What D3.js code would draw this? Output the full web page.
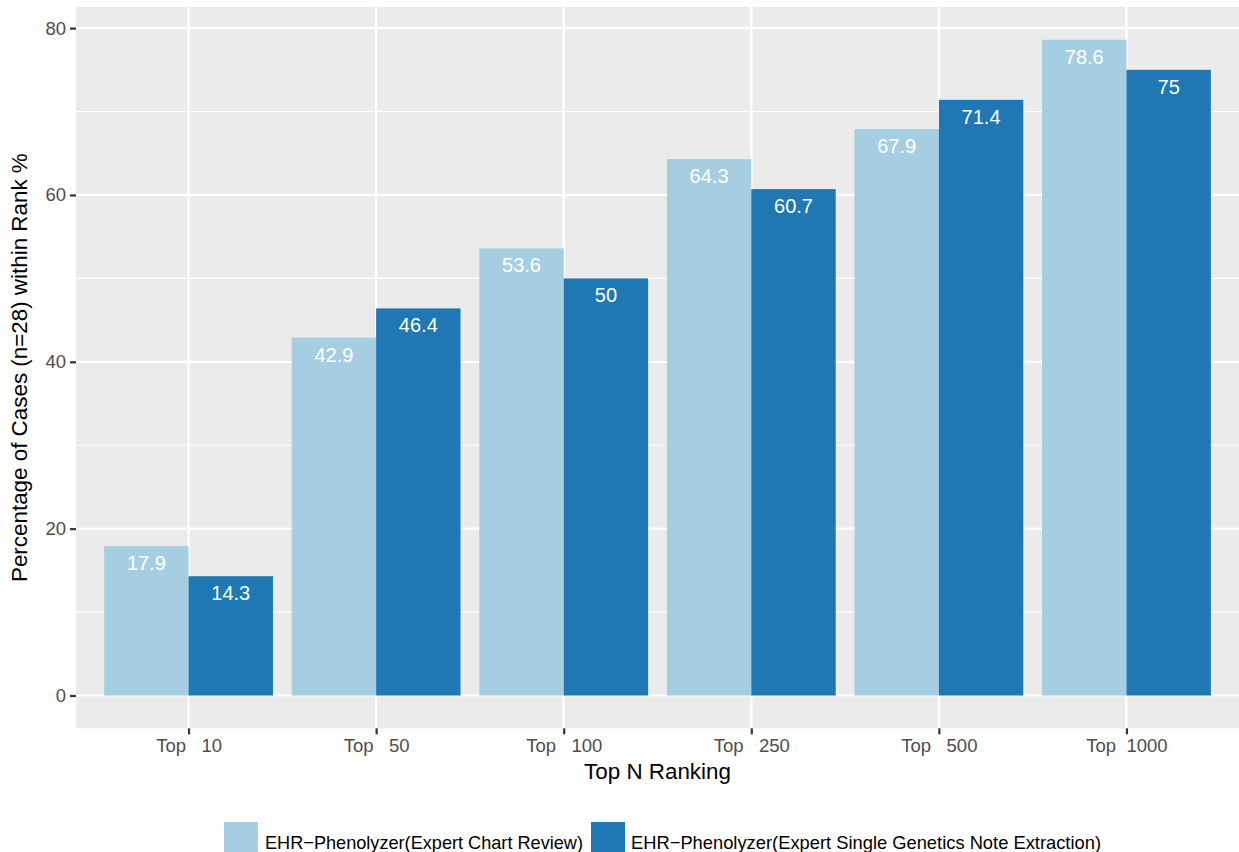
<!DOCTYPE html>
<html>
<head>
<meta charset="utf-8">
<script src="https://cdn.jsdelivr.net/npm/d3@7"></script>
<style>
  html, body { margin: 0; padding: 0; background: #ffffff; }
  svg { display: block; font-family: "Liberation Sans", Arial, Helvetica, sans-serif; }
  text { white-space: pre; }
</style>
</head>
<body>
<svg id="chart" width="1239" height="852"></svg>
<script>
// Rank cut-offs on the x axis
const categories = ["10", "50", "100", "250", "500", "1000"];
const tickLabels = ["Top   10", "Top   50", "Top   100", "Top   250", "Top   500", "Top  1000"];

// Percentage of the 28 cases ranked within each cut-off
const seriesNames = [
  "EHR\u2212Phenolyzer(Expert Chart Review)",
  "EHR\u2212Phenolyzer(Expert Single Genetics Note Extraction)"
];
const chartReview = [17.9, 42.9, 53.6, 64.3, 67.9, 78.6];
const singleNote  = [14.3, 46.4, 50, 60.7, 71.4, 75];

const yTicks = [0, 20, 40, 60, 80];
const yMinor = [10, 30, 50, 70];

const colors = ["#a6cee3", "#1f78b4"];

const svg = d3.select("#chart");

// Plot panel
const panel = { left: 76, right: 1239, top: 7, bottom: 728.3 };

const x = d3.scalePoint()
  .domain(categories)
  .range([panel.left, panel.right])
  .padding(0.6);
const step = x.step();
const groupWidth = step * 0.9;

const xInner = d3.scaleBand()
  .domain(d3.range(seriesNames.length))
  .range([-groupWidth / 2, groupWidth / 2])
  .padding(0);

const yMax = d3.max(chartReview.concat(singleNote));
const pad = yMax * 0.05;
const y = d3.scaleLinear()
  .domain([-pad, yMax + pad])
  .range([panel.bottom, panel.top]);

// Panel background
svg.append("rect")
  .attr("x", panel.left)
  .attr("y", panel.top)
  .attr("width", panel.right - panel.left)
  .attr("height", panel.bottom - panel.top)
  .attr("fill", "#ebebeb");

const grid = svg.append("g");
grid.selectAll("line.minor")
  .data(yMinor)
  .join("line")
  .attr("class", "minor")
  .attr("x1", panel.left).attr("x2", panel.right)
  .attr("y1", d => y(d)).attr("y2", d => y(d))
  .attr("stroke", "#ffffff").attr("stroke-width", 1.1);
grid.selectAll("line.major")
  .data(yTicks)
  .join("line")
  .attr("class", "major")
  .attr("x1", panel.left).attr("x2", panel.right)
  .attr("y1", d => y(d)).attr("y2", d => y(d))
  .attr("stroke", "#ffffff").attr("stroke-width", 2.2);
grid.selectAll("line.vmajor")
  .data(categories)
  .join("line")
  .attr("class", "vmajor")
  .attr("x1", d => x(d)).attr("x2", d => x(d))
  .attr("y1", panel.top).attr("y2", panel.bottom)
  .attr("stroke", "#ffffff").attr("stroke-width", 2.2);

// Bars
const rows = categories.map((c, i) => ({
  cat: c,
  values: [chartReview[i], singleNote[i]]
}));

const groups = svg.append("g")
  .selectAll("g")
  .data(rows)
  .join("g")
  .attr("transform", d => `translate(${x(d.cat)},0)`);

groups.selectAll("rect")
  .data(d => d.values.map((v, s) => ({ v, s })))
  .join("rect")
  .attr("x", d => xInner(d.s))
  .attr("width", xInner.bandwidth())
  .attr("y", d => y(d.v))
  .attr("height", d => y(0) - y(d.v))
  .attr("fill", d => colors[d.s]);

groups.selectAll("text")
  .data(d => d.values.map((v, s) => ({ v, s })))
  .join("text")
  .attr("x", d => xInner(d.s) + xInner.bandwidth() / 2)
  .attr("y", d => y(d.v) + 24)
  .attr("text-anchor", "middle")
  .attr("font-size", 20)
  .attr("fill", "#ffffff")
  .text(d => d3.format("~")(d.v));

// Y axis
const yAxis = svg.append("g")
  .attr("transform", `translate(${panel.left},0)`)
  .call(d3.axisLeft(y).tickValues(yTicks).tickSize(6).tickPadding(4));
yAxis.select(".domain").remove();
yAxis.selectAll(".tick line").attr("stroke", "#333333").attr("stroke-width", 2.2);
yAxis.selectAll(".tick text")
  .attr("font-size", 18.5)
  .attr("font-family", "Liberation Sans, Arial, sans-serif")
  .attr("fill", "#4d4d4d");

// X axis
const xAxis = svg.append("g")
  .attr("transform", `translate(0,${panel.bottom})`)
  .call(d3.axisBottom(x).tickSize(6).tickPadding(5)
    .tickFormat((d, i) => tickLabels[i]));
xAxis.select(".domain").remove();
xAxis.selectAll(".tick line").attr("stroke", "#333333").attr("stroke-width", 2.2);
xAxis.selectAll(".tick text")
  .attr("font-size", 18.5)
  .attr("font-family", "Liberation Sans, Arial, sans-serif")
  .attr("fill", "#4d4d4d");

// Axis titles
svg.append("text")
  .attr("x", (panel.left + panel.right) / 2)
  .attr("y", 779)
  .attr("text-anchor", "middle")
  .attr("font-size", 22.4)
  .attr("fill", "#000000")
  .text("Top N Ranking");

svg.append("text")
  .attr("transform", `translate(27,${(panel.top + panel.bottom) / 2}) rotate(-90)`)
  .attr("text-anchor", "middle")
  .attr("font-size", 22.4)
  .attr("fill", "#000000")
  .text("Percentage of Cases (n=28) within Rank %");

// Legend
const legendItems = [
  { key: 224, text: 265, width: 318 },
  { key: 591, text: 631, width: 470 }
];
const legend = svg.append("g");
legend.selectAll("rect")
  .data(seriesNames)
  .join("rect")
  .attr("x", (d, i) => legendItems[i].key)
  .attr("y", 822)
  .attr("width", 34)
  .attr("height", 34)
  .attr("fill", (d, i) => colors[i]);
legend.selectAll("text")
  .data(seriesNames)
  .join("text")
  .attr("x", (d, i) => legendItems[i].text)
  .attr("y", 849)
  .attr("font-size", 19)
  .attr("fill", "#000000")
  .attr("textLength", (d, i) => legendItems[i].width)
  .attr("lengthAdjust", "spacingAndGlyphs")
  .text(d => d);
</script>
</body>
</html>
